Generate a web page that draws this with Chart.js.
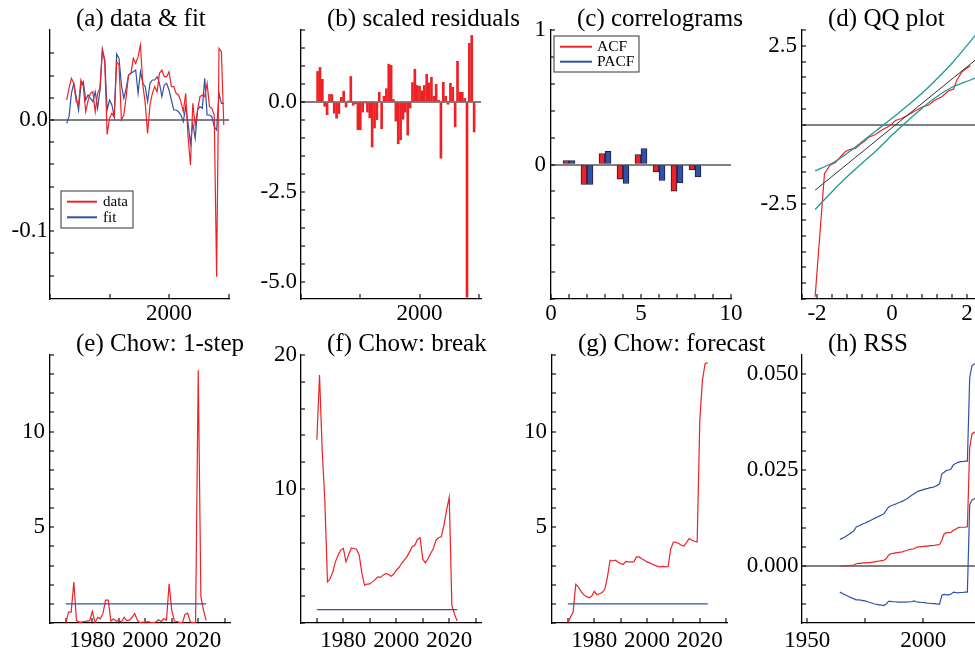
<!DOCTYPE html>
<html>
<head>
<meta charset="utf-8">
<script src="https://cdn.jsdelivr.net/npm/chart.js@4.4.1/dist/chart.umd.min.js"></script>
<style>
html, body { margin:0; padding:0; background:#fff; }
body { width:975px; height:654px; overflow:hidden; position:relative; }
canvas { position:absolute; }
</style>
</head>
<body>
<canvas id="cA"></canvas><canvas id="cB"></canvas><canvas id="cC"></canvas><canvas id="cD"></canvas>
<canvas id="cE"></canvas><canvas id="cF"></canvas><canvas id="cG"></canvas><canvas id="cH"></canvas>
<script>
// ---------------- data ----------------
const yearsFit = [1957,1958,1959,1960,1961,1962,1963,1964,1965,1966,1967,1968,1969,1970,1971,1972,1973,1974,1975,1976,1977,1978,1979,1980,1981,1982,1983,1984,1985,1986,1987,1988,1989,1990,1991,1992,1993,1994,1995,1996,1997,1998,1999,2000,2001,2002,2003,2004,2005,2006,2007,2008,2009,2010,2011,2012,2013,2014,2015,2016,2017,2018,2019,2020,2021,2022,2023];
const dataSeries = [0.018,0.0285,0.0375,
  0.033,0.0165,0.0144,0.036,0.030,0.0075,0.0174,0.024,0.0255,0.0075,
  0.024,0.0285,0.063,0.0525,-0.013,0.0015,0.006,0.0024,0.0525,0.0495,
  0.0,0.0045,0.021,0.0405,0.042,0.0555,0.051,0.057,0.0675,0.0315,
  0.015,-0.012,0.0135,0.024,0.030,0.0255,0.042,0.045,0.039,0.039,
  0.0435,0.030,0.030,0.024,0.0225,0.0165,0.0075,0.024,-0.015,-0.0405,
  0.015,-0.005,0.009,0.021,0.0225,0.021,0.033,0.012,0.0105,0.0045,
  -0.141,0.0645,0.0615,-0.0045];
const fitSeries = [-0.003,0.003,0.024,
  0.033,0.021,0.009,0.0315,0.0345,0.018,0.0225,0.0195,0.0165,0.0255,
  0.0105,0.027,0.0636,0.054,0.009,0.018,0.0135,0.003,0.0594,0.0555,
  0.0315,0.0195,0.0285,0.0405,0.042,0.0435,0.045,0.024,0.0435,0.033,
  0.030,0.0165,0.033,0.036,0.036,0.039,0.033,0.021,0.0315,0.033,
  0.027,0.018,0.009,0.009,0.0075,0.0045,-0.0015,0.012,-0.003,-0.021,
  -0.003,-0.0165,0.009,0.012,0.0105,0.0375,0.0045,0.0045,0.003,-0.006,
  -0.009,0.024,0.015,0.015];
const scaledResiduals = [0.85,0.96,0.63,
  -0.12,-0.35,0.21,0.21,-0.31,-0.45,-0.32,0.13,0.30,-0.14,
  0.03,0.71,-0.09,-0.05,-0.77,-0.77,-0.28,-0.02,-0.28,-0.44,
  -1.25,-0.72,-0.49,0.27,-0.74,0.16,0.37,1.05,1.02,0.07,
  -0.53,-1.16,-1.05,-0.48,-0.28,-0.92,-0.17,0.54,0.91,0.46,
  0.44,0.31,0.46,0.77,0.53,0.69,0.16,0.49,0.05,-1.56,
  0.55,0.16,-0.06,0.52,0.41,-0.69,1.13,0.27,0.27,0.10,
  -5.42,1.63,1.85,-0.83];

const lags = [1,2,3,4,5,6,7,8];
const acf  = [0.03,-0.149,0.082,-0.109,0.074,-0.055,-0.199,-0.04];
const pacf = [0.03,-0.149,0.097,-0.141,0.119,-0.119,-0.137,-0.092];

const qqNormal    = [-2.05,-1.80,-1.65,-1.51,-1.33,-1.24,-1.11,-0.98,-0.84,-0.75,-0.62,-0.44,-0.27,-0.13,0,0.09,0.27,0.44,0.62,0.80,0.98,1.15,1.33,1.51,1.64,1.73,1.87,2.09];
const qqResiduals = [-5.43,-1.53,-1.27,-1.19,-0.95,-0.84,-0.77,-0.74,-0.60,-0.53,-0.39,-0.30,-0.16,-0.07,0.03,0.14,0.21,0.32,0.45,0.56,0.63,0.79,0.89,1.08,1.13,1.42,1.69,1.87];
const qqBandX     = [-2.05,-1.6,-1.2,-0.8,-0.4,0,0.4,0.8,1.2,1.6,2.09,2.3];
const qqBandUpper = [-1.45,-1.21,-0.90,-0.53,-0.16,0.21,0.60,1.00,1.46,1.95,2.64,2.95];
const qqBandLower = [-2.67,-2.11,-1.64,-1.21,-0.79,-0.32,0.11,0.53,0.90,1.19,1.42,1.52];
const qqRefX = [-2.05, 2.4];
const qqRefY = [-2.06, 2.22];

const yearsChow = [1970,1971,1972,1973,1974,1975,1976,1977,1978,1979,1980,1981,1982,1983,1984,1985,1986,1987,1988,1989,1990,1991,1992,1993,1994,1995,1996,1997,1998,1999,2000,2001,2002,2003,2004,2005,2006,2007,2008,2009,2010,2011,2012,2013,2014,2015,2016,2017,2018,2019,2020,2021,2022,2023];
const chow1step = [0,0.57,0.57,2.14,0.14,0.05,0.05,0.08,0.1,0.12,
  0.61,0.0,0.3,0.22,0.5,1.2,1.2,0.1,0.22,0.1,
  0.12,0.05,0.3,0.12,0.15,0.3,0.5,0.15,0.02,0.05,
  0.04,0.07,0.04,0.02,0.05,0.17,0.08,0.22,0.15,2.05,
  0.66,0.1,0.08,0.02,0.02,0.45,0.52,0.05,0.03,0.02,
  13.2,1.36,0.66,0.14];
const chowBreak = [13.67,18.5,12.9,9.2,3.07,3.3,3.8,4.56,5.06,5.44,
  5.56,4.56,5.1,5.6,5.56,5.5,5.06,3.7,2.82,2.9,
  2.92,3.07,3.24,3.44,3.4,3.57,3.69,3.64,3.49,3.64,
  3.94,4.14,4.44,4.69,4.94,5.31,5.69,5.8,6.23,6.36,
  4.76,4.49,4.81,5.19,5.56,6.18,6.36,6.43,7.3,8.43,
  9.38,1.32,0.65,0.15];
const chowForecast = [0,0.3,0.57,2.02,1.88,1.65,1.48,1.39,1.32,1.39,
  1.65,1.48,1.53,1.59,1.76,2.4,3.28,3.24,3.28,3.19,
  3.1,3.07,3.22,3.19,3.19,3.19,3.45,3.45,3.36,3.28,
  3.19,3.14,3.07,3.01,2.96,2.93,2.96,2.93,2.96,3.88,
  4.23,4.22,4.15,4.06,4.02,4.23,4.41,4.32,4.27,4.23,
  10.6,12.7,13.55,13.6];
const chowCritical = 1;

const yearsRSS = [1964,1965,1966,1967,1968,1969,1970,1971,1972,1973,1974,1975,1976,1977,1978,1979,1980,1981,1982,1983,1984,1985,1986,1987,1988,1989,1990,1991,1992,1993,1994,1995,1996,1997,1998,1999,2000,2001,2002,2003,2004,2005,2006,2007,2008,2009,2010,2011,2012,2013,2014,2015,2016,2017,2018,2019,2020,2021,2022,2023];
const rss = [0.0000,0.0000,0.0001,0.0001,0.0001,0.0002,
  0.0002,0.0006,0.0007,0.0007,0.0008,0.0008,0.0009,0.0009,0.0010,0.0011,
  0.0012,0.0013,0.0014,0.0015,0.0019,0.0028,0.0032,0.0033,0.0034,0.0035,
  0.0036,0.0037,0.0039,0.0041,0.0043,0.0044,0.0045,0.0049,0.0050,0.0050,
  0.0051,0.0052,0.0052,0.0053,0.0053,0.0054,0.0055,0.0056,0.0067,0.0084,
  0.0087,0.0087,0.0088,0.0093,0.0096,0.0100,0.0101,0.0101,0.0101,0.0102,
  0.0309,0.0344,0.0348,0.0350];
const rssUpper = [0.0069,0.0072,0.0075,0.0079,0.0083,0.0087,
  0.0091,0.0101,0.0104,0.0107,0.0110,0.0112,0.0115,0.0118,0.0121,0.0124,
  0.0127,0.0130,0.0133,0.0136,0.0145,0.0153,0.0157,0.0159,0.0161,0.0164,
  0.0166,0.0169,0.0172,0.0175,0.0180,0.0184,0.0188,0.0192,0.0195,0.0197,
  0.0199,0.0201,0.0202,0.0204,0.0205,0.0207,0.0210,0.0214,0.0240,0.0244,
  0.0249,0.0250,0.0253,0.0264,0.0267,0.0270,0.0272,0.0272,0.0273,0.0273,
  0.0491,0.0522,0.0526,0.0528];
const rssLower = [-0.0068,-0.0071,-0.0074,-0.0077,-0.0080,-0.0083,
  -0.0085,-0.0088,-0.0088,-0.0089,-0.0090,-0.0091,-0.0093,-0.0095,-0.0097,-0.0099,
  -0.0100,-0.0101,-0.0102,-0.0103,-0.0099,-0.0092,-0.0092,-0.0093,-0.0093,-0.0094,
  -0.0094,-0.0094,-0.0094,-0.0094,-0.0093,-0.0093,-0.0091,-0.0093,-0.0094,-0.0095,
  -0.0095,-0.0096,-0.0097,-0.0097,-0.0098,-0.0098,-0.0099,-0.0099,-0.0076,-0.0074,
  -0.0075,-0.0075,-0.0073,-0.0068,-0.0069,-0.0070,-0.0069,-0.0069,-0.0068,-0.0068,
  0.0160,0.0172,0.0175,0.0176];

// ---------------- tick values and labels ----------------
const aXTicks = [1950,1975,2000,2025];            const aXLabels = ['','','2000',''];
const aYTicks = [-0.14,-0.12,-0.10,-0.08,-0.06,-0.04,-0.02,0,0.02,0.04,0.06];
const aYLabels = ['','','-0.1','','','','','0.0','','',''];
const bYTicks = [-5.0,-4.5,-4.0,-3.5,-3.0,-2.5,-2.0,-1.5,-1.0,-0.5,0,0.5,1.0,1.5,2.0];
const bYLabels = ['-5.0','','','','','-2.5','','','','','0.0','','','',''];
const cXTicks = [0,1,2,3,4,5,6,7,8,9,10];         const cXLabels = ['0','','','','','5','','','','','10'];
const cYTicks = [-1,-0.8,-0.6,-0.4,-0.2,0,0.2,0.4,0.6,0.8,1];
const cYLabels = ['','','','','','0','','','','','1'];
const dXTicks = [-2.4,-2,-1.6,-1.2,-0.8,-0.4,0,0.4,0.8,1.2,1.6,2,2.4];
const dXLabels = ['','-2','','','','','0','','','','','2',''];
const dYTicks = [-5.5,-5,-4.5,-4,-3.5,-3,-2.5,-2,-1.5,-1,-0.5,0,0.5,1,1.5,2,2.5,3];
const dYLabels = ['','','','','','','-2.5','','','','','','','','','','2.5',''];
const chowXTicks = [1970,1980,1990,2000,2010,2020,2030];
const chowXLabels = ['','1980','','2000','','2020',''];
const eYTicks = [0,1,2,3,4,5,6,7,8,9,10,11,12,13,14];
const eYLabels = ['','','','','','5','','','','','10','','','',''];
const fYTicks = [0,2,4,6,8,10,12,14,16,18,20];
const fYLabels = ['','','','','','10','','','','','20'];
const hXTicks = [1950,1975,2000,2025];            const hXLabels = ['1950','','2000',''];
const hYTicks = [-0.010,-0.005,0,0.005,0.010,0.015,0.020,0.025,0.030,0.035,0.040,0.045,0.050];
const hYLabels = ['','','0.000','','','','','0.025','','','','','0.050'];

// ---------------- styling / helpers ----------------
const FONT = '"Liberation Serif", "Times New Roman", Times, serif';
const RED = '#EE2226', BLUE = '#3052A6', TEAL = '#1F9898', GREY = '#808080';
Chart.defaults.font.family = FONT;

const pts = (xs, ys) => xs.map((x, i) => ({x: x, y: ys[i]}));
const line = (data, color, width, extra) => Object.assign({data: data, borderColor: color, backgroundColor: color, borderWidth: width || 1.2, pointRadius: 0, tension: 0, fill: false}, extra || {});

const titlePlugin = {
  id: 'panelTitle',
  afterDraw(chart, args, o) {
    const ctx = chart.ctx, ca = chart.chartArea;
    ctx.save();
    ctx.font = '25px ' + FONT; ctx.fillStyle = '#000';
    ctx.textAlign = 'left'; ctx.textBaseline = 'alphabetic';
    ctx.fillText(o.text, ca.left + 26, ca.top - 4);
    ctx.restore();
  }
};
const boxLegendPlugin = {
  id: 'boxLegend',
  afterDatasetsDraw(chart, args, o) {
    if (!o || !o.show) return;
    const ctx = chart.ctx;
    const bx = o.x - o.ox, by = o.y - o.oy;
    ctx.save();
    ctx.fillStyle = '#fff'; ctx.fillRect(bx, by, o.w, o.h);
    ctx.strokeStyle = '#555'; ctx.lineWidth = 1.2; ctx.strokeRect(bx, by, o.w, o.h);
    const items = chart.data.datasets.filter(d => d.label);
    items.forEach((d, i) => {
      const y = by + o.rows[i];
      ctx.strokeStyle = chart.config.type === 'bar' ? d.backgroundColor : d.borderColor;
      ctx.lineWidth = 2;
      ctx.beginPath(); ctx.moveTo(bx + o.l0, y); ctx.lineTo(bx + o.l1, y); ctx.stroke();
      ctx.fillStyle = '#000'; ctx.font = o.font; ctx.textAlign = 'left'; ctx.textBaseline = 'middle';
      ctx.fillText(d.label, bx + o.tx, y + 0.5);
    });
    ctx.restore();
  }
};

function makeAxis(s, isX, box) {
  return {
    type: 'linear', min: s.min, max: s.max, offset: false,
    afterBuildTicks: sc => { sc.ticks = s.ticks.map(v => ({value: v})); },
    afterFit: sc => {
      if (isX) sc.height = box.xh; else sc.width = box.yw;
      sc.paddingLeft = 0; sc.paddingRight = 0; sc.paddingTop = 0; sc.paddingBottom = 0;
    },
    border: {display: true, color: '#000', width: 1.3},
    grid: {
      display: true, offset: false,
      drawOnChartArea: !!s.zero,
      color: ctx => (s.zero && ctx.tick && ctx.tick.value === 0) ? GREY : 'rgba(0,0,0,0)',
      lineWidth: 2,
      drawTicks: true,
      tickLength: isX ? -5 : -4,
      tickColor: '#000', tickWidth: 1.1
    },
    ticks: {
      autoSkip: false, maxRotation: 0, minRotation: 0, padding: s.pad, color: '#000',
      font: {family: FONT, size: 23},
      callback: (v, i) => s.labels[i]
    }
  };
}

function makePanel(id, box, type, datasets, xs, ys, title, legend) {
  const cv = document.getElementById(id);
  const ox = box.L - box.yw, oy = box.T - 30;
  const W = box.yw + (box.R - box.L) + box.pr;
  const H = 30 + (box.B - box.T) + box.xh;
  cv.width = W; cv.height = H;
  cv.style.left = ox + 'px'; cv.style.top = oy + 'px';
  cv.style.width = W + 'px'; cv.style.height = H + 'px';
  return new Chart(cv, {
    type: type,
    data: {datasets: datasets},
    options: {
      responsive: false, animation: false, devicePixelRatio: 1, events: [],
      layout: {padding: {left: 0, top: 30, right: box.pr, bottom: 0}},
      plugins: {
        legend: {display: false}, tooltip: {enabled: false},
        panelTitle: {text: title},
        boxLegend: legend ? Object.assign({show: true, ox: ox, oy: oy}, legend) : {show: false}
      },
      scales: {x: makeAxis(xs, true, box), y: makeAxis(ys, false, box)}
    },
    plugins: [titlePlugin, boxLegendPlugin]
  });
}

const TOPPAD = 6.5, BOTPAD = 9.5;

// (a) data & fit
makePanel('cA', {L:50, T:30, R:229, B:299, yw:50, pr:22, xh:40}, 'line', [
    line(pts(yearsFit, dataSeries), RED, 1.2, {label: 'data'}),
    line(pts(yearsFit, fitSeries), BLUE, 1.2, {label: 'fit'})
  ],
  {min: 1950, max: 2025.2, ticks: aXTicks, labels: aXLabels, pad: TOPPAD},
  {min: -0.1611, max: 0.0810, ticks: aYTicks, labels: aYLabels, pad: 6, zero: true},
  '(a) data & fit',
  {x: 61, y: 191, w: 72, h: 37, l0: 6, l1: 36, tx: 42, rows: [10.7, 26.3], font: '15px ' + FONT});

// (b) scaled residuals
makePanel('cB', {L:301, T:30, R:481, B:299, yw:56, pr:55, xh:40}, 'bar', [
    {data: pts(yearsFit, scaledResiduals), backgroundColor: RED, borderWidth: 0, barThickness: 2}
  ],
  {min: 1950, max: 2025.9, ticks: aXTicks, labels: aXLabels, pad: TOPPAD},
  {min: -5.47, max: 2.0, ticks: bYTicks, labels: bYLabels, pad: 8, zero: true},
  '(b) scaled residuals');

// (c) correlograms
makePanel('cC', {L:551, T:30, R:731, B:299, yw:50, pr:30, xh:40}, 'bar', [
    {label: 'ACF', data: pts(lags, acf), backgroundColor: RED, borderColor: '#1c1c3c', borderWidth: 1, borderSkipped: false, barThickness: 6},
    {label: 'PACF', data: pts(lags, pacf), backgroundColor: BLUE, borderColor: '#1c1c3c', borderWidth: 1, borderSkipped: false, barThickness: 6}
  ],
  {min: 0, max: 10, ticks: cXTicks, labels: cXLabels, pad: TOPPAD},
  {min: -1, max: 1, ticks: cYTicks, labels: cYLabels, pad: 9, zero: true},
  '(c) correlograms',
  {x: 554, y: 36, w: 85, h: 36, l0: 6, l1: 38, tx: 43, rows: [10.7, 25.7], font: '15.5px ' + FONT});

// (d) QQ plot
makePanel('cD', {L:802, T:30, R:982, B:299, yw:66, pr:4, xh:40}, 'line', [
    line(pts(qqRefX, qqRefY), '#333333', 1),
    line(pts(qqBandX, qqBandUpper), TEAL, 1.3, {cubicInterpolationMode: 'monotone'}),
    line(pts(qqBandX, qqBandLower), TEAL, 1.3, {cubicInterpolationMode: 'monotone'}),
    line(pts(qqNormal, qqResiduals), RED, 1.2)
  ],
  {min: -2.4, max: 2.4, ticks: dXTicks, labels: dXLabels, pad: TOPPAD},
  {min: -5.5, max: 3.0, ticks: dYTicks, labels: dYLabels, pad: 9, zero: true},
  '(d) QQ plot');

const critLine = pts([yearsChow[0], yearsChow[yearsChow.length - 1]], [chowCritical, chowCritical]);

// (e) Chow 1-step
makePanel('cE', {L:50, T:355, R:230, B:623, yw:50, pr:30, xh:31}, 'line', [
    line(critLine, BLUE, 1.2),
    line(pts(yearsChow, chow1step), RED, 1.2)
  ],
  {min: 1964, max: 2032, ticks: chowXTicks, labels: chowXLabels, pad: BOTPAD},
  {min: 0, max: 14, ticks: eYTicks, labels: eYLabels, pad: 9},
  '(e) Chow: 1-step');

// (f) Chow break
makePanel('cF', {L:301, T:355, R:481, B:623, yw:56, pr:30, xh:31}, 'line', [
    line(critLine, BLUE, 1.2),
    line(pts(yearsChow, chowBreak), RED, 1.2)
  ],
  {min: 1964, max: 2032, ticks: chowXTicks, labels: chowXLabels, pad: BOTPAD},
  {min: 0, max: 20, ticks: fYTicks, labels: fYLabels, pad: 8},
  '(f) Chow: break');

// (g) Chow forecast
makePanel('cG', {L:552, T:355, R:727, B:623, yw:50, pr:55, xh:31}, 'line', [
    line(critLine, BLUE, 1.2),
    line(pts(yearsChow, chowForecast), RED, 1.2)
  ],
  {min: 1964, max: 2030.3, ticks: chowXTicks, labels: chowXLabels, pad: BOTPAD},
  {min: 0, max: 14, ticks: eYTicks, labels: eYLabels, pad: 9},
  '(g) Chow: forecast');

// (h) RSS
makePanel('cH', {L:802, T:355, R:982, B:623, yw:66, pr:4, xh:31}, 'line', [
    line(pts(yearsRSS, rss), RED, 1.2),
    line(pts(yearsRSS, rssUpper), BLUE, 1.2),
    line(pts(yearsRSS, rssLower), BLUE, 1.2)
  ],
  {min: 1947.7, max: 2025.3, ticks: hXTicks, labels: hXLabels, pad: BOTPAD},
  {min: -0.01484, max: 0.05495, ticks: hYTicks, labels: hYLabels, pad: 7.5, zero: true},
  '(h) RSS');
</script>
</body>
</html>
